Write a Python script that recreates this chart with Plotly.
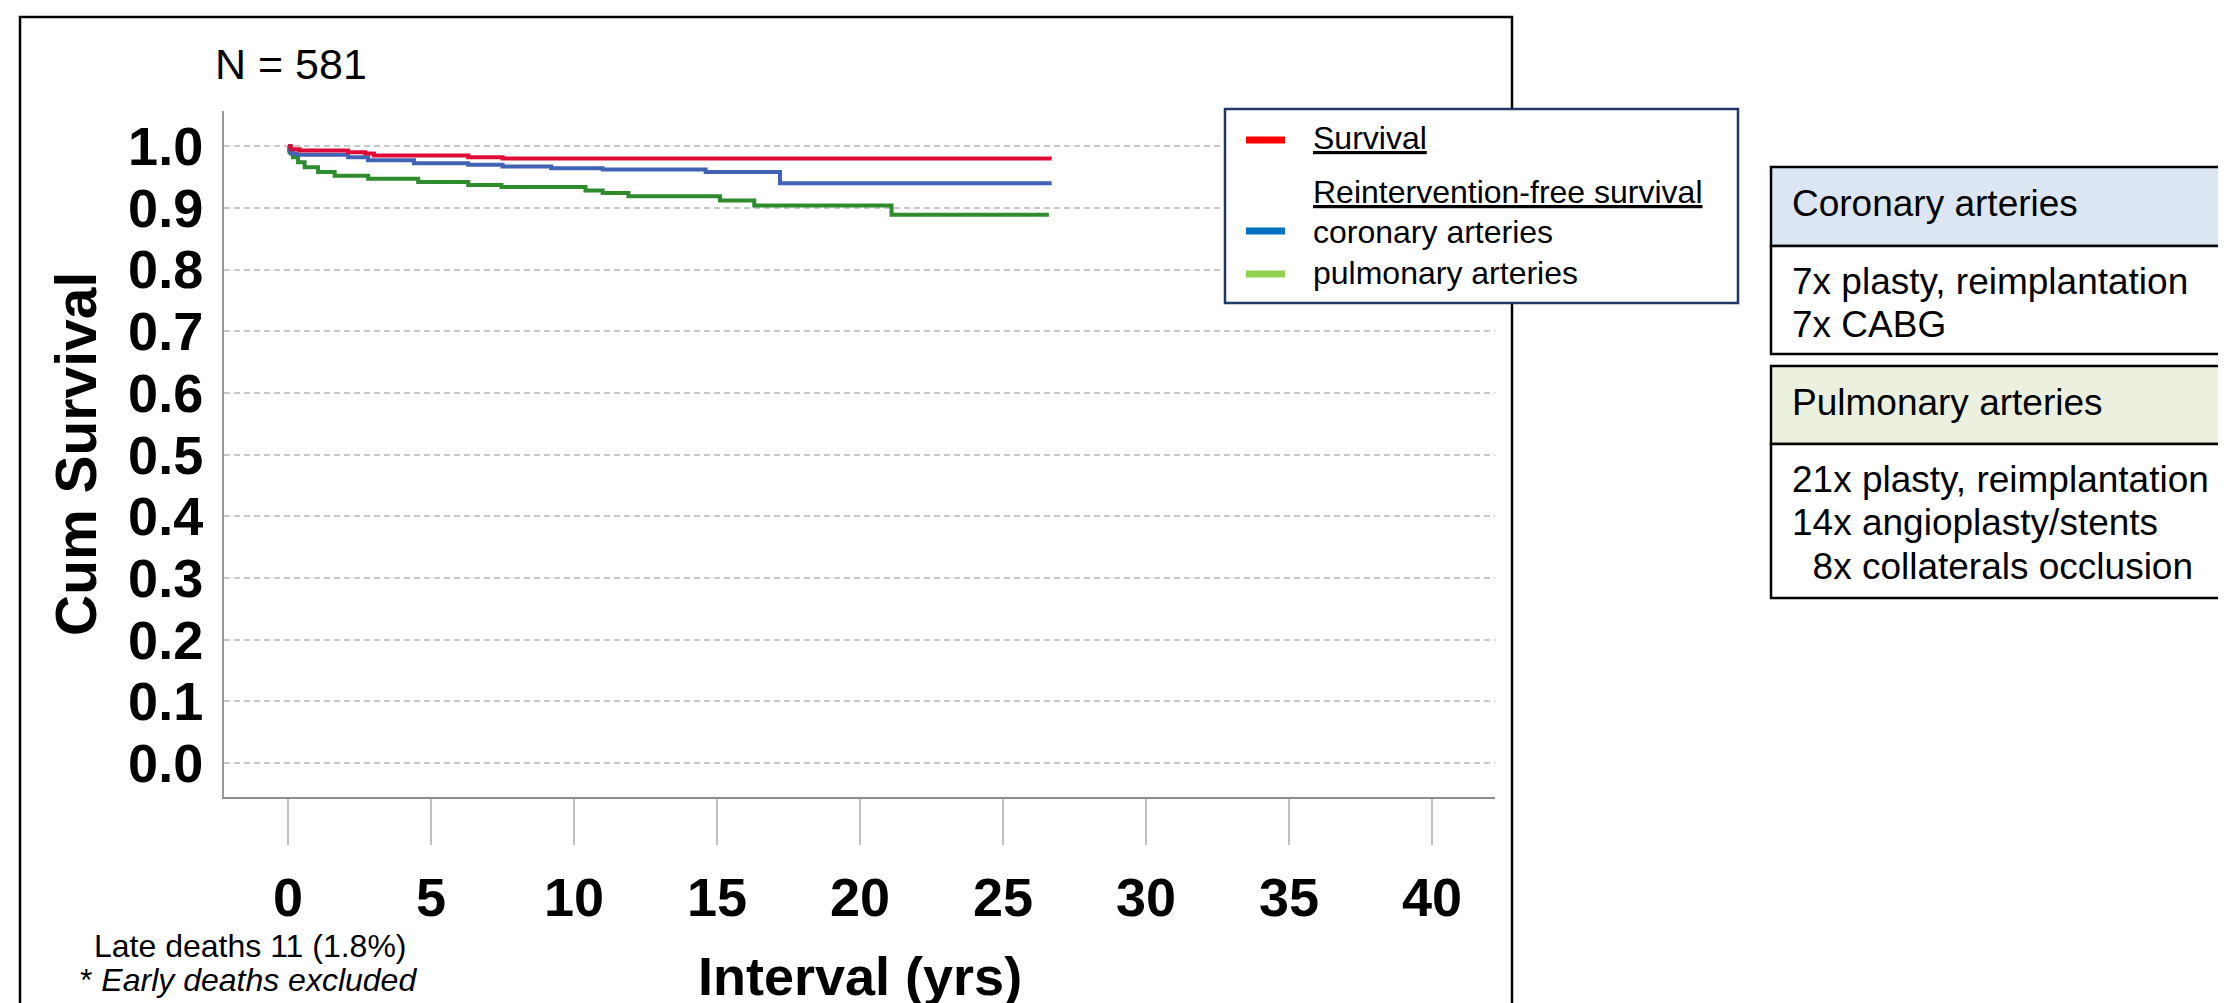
import plotly.graph_objects as go

# ---------------- data ----------------
surv_t = [0, 0.1, 0.4, 2.1, 2.7, 3.0, 6.3, 7.5, 26.7]
surv_v = [1.0, 0.995, 0.993, 0.990, 0.988, 0.985, 0.982, 0.980, 0.980]

coro_t = [0, 0.04, 0.1, 0.3, 2.1, 2.8, 4.4, 6.3, 7.5, 9.2, 11.0, 14.6, 17.2, 26.7]
coro_v = [1.0, 0.993, 0.988, 0.986, 0.982, 0.977, 0.9725, 0.970, 0.967, 0.964, 0.962, 0.958, 0.940, 0.940]

pulm_t = [0, 0.06, 0.17, 0.35, 0.58, 1.05, 1.63, 2.8, 4.55, 6.3, 7.46, 10.4, 11.0, 11.9,
          15.1, 16.3, 21.1, 26.6]
pulm_v = [1.0, 0.990, 0.982, 0.974, 0.966, 0.958, 0.952, 0.947, 0.942, 0.937, 0.934, 0.928,
          0.924, 0.919, 0.912, 0.904, 0.889, 0.889]

x_ticks = [0, 5, 10, 15, 20, 25, 30, 35, 40]
y_ticks = [0.0, 0.1, 0.2, 0.3, 0.4, 0.5, 0.6, 0.7, 0.8, 0.9, 1.0]

legend_labels = ["Survival", "Reintervention-free survival", "coronary arteries", "pulmonary arteries"]
coro_header = "Coronary arteries"
coro_lines = ["7x plasty, reimplantation", "7x CABG"]
pulm_header = "Pulmonary arteries"
pulm_lines = ["21x plasty, reimplantation", "14x angioplasty/stents", "\u00a0\u00a08x collaterals occlusion"]

# ---------------- layout geometry ----------------
W, H = 2226, 1003
L, R, T, B = 216, 1487, 103, 789
FONT = "Liberation Sans, Arial, Helvetica, sans-serif"


def px(x):
    return (x - L) / (R - L)


def py(y):
    return (B - y) / (B - T)


fig = go.Figure()
fig.add_trace(go.Scatter(x=pulm_t, y=pulm_v, mode="lines", line=dict(color="#2e8b2e", width=4, shape="hv"),
                         name="pulmonary arteries", showlegend=False))
fig.add_trace(go.Scatter(x=coro_t, y=coro_v, mode="lines", line=dict(color="#4263b3", width=4, shape="hv"),
                         name="coronary arteries", showlegend=False))
fig.add_trace(go.Scatter(x=surv_t, y=surv_v, mode="lines", line=dict(color="#de0b36", width=4, shape="hv"),
                         name="Survival", showlegend=False))

shapes = []
annotations = []

# outer frame
shapes.append(dict(type="rect", xref="paper", yref="paper", x0=px(12), x1=px(1504), y0=py(1012), y1=py(9),
                   line=dict(color="black", width=2.5), fillcolor="rgba(0,0,0,0)", layer="below"))

# legend box
shapes.append(dict(type="rect", xref="paper", yref="paper", x0=px(1217), x1=px(1730), y0=py(295), y1=py(101),
                   line=dict(color="#1f3864", width=2.5), fillcolor="white", layer="above"))
sw = [("#ff0000", 132), ("#0070c0", 223), ("#92d050", 266)]
for col, yy in sw:
    shapes.append(dict(type="line", xref="paper", yref="paper", x0=px(1238), x1=px(1277), y0=py(yy), y1=py(yy),
                       line=dict(color=col, width=7), layer="above"))
leg_pos = [("<u>%s</u>" % legend_labels[0], 130), ("<u>%s</u>" % legend_labels[1], 184),
           (legend_labels[2], 224), (legend_labels[3], 265)]
for txt, yy in leg_pos:
    annotations.append(dict(xref="paper", yref="paper", x=px(1303), y=py(yy), text=txt, showarrow=False,
                            xanchor="left", yanchor="middle", font=dict(family=FONT, size=32, color="black")))

# table boxes
TX0, TX1 = 1763, 2240
shapes.append(dict(type="rect", xref="paper", yref="paper", x0=px(TX0), x1=px(TX1), y0=py(238), y1=py(159),
                   line=dict(color="black", width=2.5), fillcolor="#dce6f2"))
shapes.append(dict(type="rect", xref="paper", yref="paper", x0=px(TX0), x1=px(TX1), y0=py(346), y1=py(238),
                   line=dict(color="black", width=2.5), fillcolor="white"))
shapes.append(dict(type="rect", xref="paper", yref="paper", x0=px(TX0), x1=px(TX1), y0=py(436), y1=py(358),
                   line=dict(color="black", width=2.5), fillcolor="#ebf1de"))
shapes.append(dict(type="rect", xref="paper", yref="paper", x0=px(TX0), x1=px(TX1), y0=py(590), y1=py(436),
                   line=dict(color="black", width=2.5), fillcolor="white"))

tfont = dict(family=FONT, size=37, color="black")
annotations.append(dict(xref="paper", yref="paper", x=px(1782), y=py(195), text=coro_header, showarrow=False,
                        xanchor="left", yanchor="middle", font=tfont))
for txt, yy in zip(coro_lines, [273, 316]):
    annotations.append(dict(xref="paper", yref="paper", x=px(1782), y=py(yy), text=txt, showarrow=False,
                            xanchor="left", yanchor="middle", font=tfont))
annotations.append(dict(xref="paper", yref="paper", x=px(1782), y=py(394), text=pulm_header, showarrow=False,
                        xanchor="left", yanchor="middle", font=tfont))
for txt, yy in zip(pulm_lines, [471, 514, 558]):
    annotations.append(dict(xref="paper", yref="paper", x=px(1782), y=py(yy), text=txt, showarrow=False,
                            xanchor="left", yanchor="middle", font=tfont))

# texts around the chart
annotations.append(dict(xref="paper", yref="paper", x=px(283), y=py(56), text="N = 581", showarrow=False,
                        xanchor="center", yanchor="middle", font=dict(family=FONT, size=43, color="black")))
annotations.append(dict(xref="paper", yref="paper", x=px(68), y=py(446), text="<b>Cum Survival</b>",
                        showarrow=False, textangle=-90, xanchor="center", yanchor="middle",
                        font=dict(family=FONT, size=57, color="black")))
annotations.append(dict(xref="paper", yref="paper", x=px(852), y=py(968), text="<b>Interval (yrs)</b>",
                        showarrow=False, xanchor="center", yanchor="middle",
                        font=dict(family=FONT, size=54, color="black")))
annotations.append(dict(xref="paper", yref="paper", x=px(242), y=py(938), text="Late deaths 11 (1.8%)",
                        showarrow=False, xanchor="center", yanchor="middle",
                        font=dict(family=FONT, size=32, color="black")))
annotations.append(dict(xref="paper", yref="paper", x=px(240), y=py(972), text="* <i>Early deaths excluded</i>",
                        showarrow=False, xanchor="center", yanchor="middle",
                        font=dict(family=FONT, size=32, color="black")))

fig.update_layout(
    width=W, height=H, autosize=False,
    margin=dict(l=L, r=W - R, t=T, b=H - B, pad=0),
    paper_bgcolor="white", plot_bgcolor="white",
    shapes=shapes, annotations=annotations,
    xaxis=dict(range=[-2.24, 42.2], tickvals=x_ticks, ticktext=[str(v) for v in x_ticks],
               showgrid=False, zeroline=False, showline=True, linecolor="#8c8c8c", linewidth=2,
               ticks="outside", ticklen=46, tickwidth=2, tickcolor="#c0c0c0",
               ticklabelstandoff=6,
               tickfont=dict(family=FONT, size=54, color="black", weight="bold"), fixedrange=True),
    yaxis=dict(range=[-0.055, 1.057], tickvals=y_ticks, ticktext=["%.1f" % v for v in y_ticks],
               showgrid=True, gridcolor="#c8c8c8", gridwidth=2, griddash="6px,4px",
               zeroline=False, showline=True, linecolor="#9a9a9a", linewidth=2, ticks="",
               ticklabelstandoff=8,
               tickfont=dict(family=FONT, size=54, color="black", weight="bold"), fixedrange=True),
)

fig.write_html("out.html")
